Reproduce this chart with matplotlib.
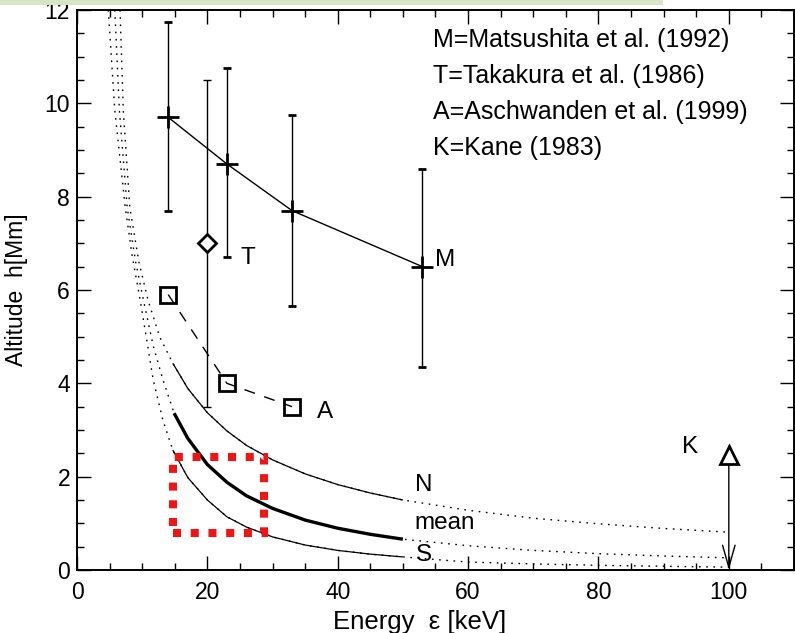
import numpy as np
import matplotlib.pyplot as plt
from matplotlib.patches import Rectangle
from matplotlib.ticker import MultipleLocator

plt.rcParams['font.family'] = ['Liberation Sans', 'DejaVu Sans']

# M = Matsushita et al. (1992), with error bar ends
m_energy = [14, 23, 33, 53]
m_alt = [9.7, 8.7, 7.7, 6.5]
m_low = [7.7, 6.7, 5.65, 4.35]
m_high = [11.75, 10.75, 9.75, 8.6]

# T = Takakura et al. (1986)
t_energy = [20]
t_alt = [7.0]
t_low = [3.5]
t_high = [10.5]

# A = Aschwanden et al. (1999)
a_energy = [14, 23, 33]
a_alt = [5.9, 4.0, 3.5]

# K = Kane (1983), upper limit
k_energy = [100]
k_alt = [2.46]

# model curves N / mean / S
n_energy = [6.6, 7.1, 8.1, 9.5, 10.9, 12.7, 14.7, 17, 20, 23, 26, 30, 35, 40, 45, 50, 60, 70, 80, 90, 100]
n_alt = [12.0, 9.85, 7.77, 6.6, 5.78, 4.99, 4.43, 3.89, 3.37, 2.98, 2.67, 2.36, 2.06, 1.83, 1.65, 1.5,
         1.28, 1.11, 0.99, 0.89, 0.81]
mean_energy = [5.8, 6.5, 7.7, 9.0, 10.2, 11.7, 13.2, 14.9, 17, 20, 23, 26, 30, 35, 40, 45, 50, 60, 70, 80, 90, 100]
mean_alt = [12.0, 9.85, 7.77, 6.6, 5.78, 4.8, 4.07, 3.36, 2.82, 2.26, 1.88, 1.59, 1.32, 1.07, 0.895, 0.765, 0.66,
            0.52, 0.42, 0.35, 0.30, 0.26]
s_energy = [4.8, 5.8, 7.4, 8.5, 9.7, 11.7, 13.2, 14.7, 17, 20, 23, 26, 30, 35, 40, 45, 50, 60, 70, 80, 90, 100]
s_alt = [12.0, 9.85, 7.77, 6.7, 5.78, 4.07, 3.2, 2.57, 1.98, 1.5, 1.14, 0.92, 0.71, 0.535, 0.42, 0.34, 0.28,
         0.17, 0.13, 0.10, 0.08, 0.06]
solid_range = (14.5, 50)

# highlighted region
box_energy = (14.7, 28.7)
box_alt = (0.8, 2.42)

legend_lines = ['M=Matsushita et al. (1992)', 'T=Takakura et al. (1986)',
                'A=Aschwanden et al. (1999)', 'K=Kane (1983)']

fig = plt.figure(figsize=(7.95, 6.33), dpi=100)
ax = fig.add_axes([77 / 795, 1 - 570 / 633, 717 / 795, 560 / 633])

# screenshot band on top
fig.patches.append(Rectangle((0, 1 - 5 / 633), 663 / 795, 5 / 633, transform=fig.transFigure,
                             facecolor='#d7e4c6', edgecolor='none'))

# model curves: dotted everywhere, solid inside the fitted range
for e, h, lw in [(n_energy, n_alt, 0.9), (mean_energy, mean_alt, 2.4), (s_energy, s_alt, 0.9)]:
    e = np.array(e)
    h = np.array(h)
    ax.plot(e, h, color='k', lw=1.0, linestyle=(0, (1.2, 4)))
    sel = (e >= solid_range[0]) & (e <= solid_range[1])
    ax.plot(e[sel], h[sel], color='k', lw=lw, solid_capstyle='butt')

# Matsushita
m_err = [np.array(m_alt) - np.array(m_low), np.array(m_high) - np.array(m_alt)]
ax.errorbar(m_energy, m_alt, yerr=m_err, fmt='-', marker='+', ms=16, mew=2.0, color='k',
            lw=1.0, elinewidth=1.0, capsize=3, capthick=1.0)

# Takakura
t_err = [np.array(t_alt) - np.array(t_low), np.array(t_high) - np.array(t_alt)]
ax.errorbar(t_energy, t_alt, yerr=t_err, fmt='none', ecolor='k', elinewidth=1.0, capsize=3, capthick=1.0)
ax.plot(t_energy, t_alt, linestyle='none', marker='D', ms=9, mfc='white', mec='k', mew=2.0, zorder=5)

# Aschwanden
ax.plot(a_energy, a_alt, color='k', lw=1.0, linestyle=(0, (8, 7)))
ax.plot(a_energy, a_alt, linestyle='none', marker='s', ms=12, mfc='none', mec='k', mew=2.0)

# Kane upper limit
for e, h in zip(k_energy, k_alt):
    ax.annotate('', xy=(e, 0), xytext=(e, h),
                arrowprops=dict(arrowstyle='->,head_length=1.6,head_width=0.45', lw=1.0, color='k',
                                shrinkA=0, shrinkB=0, mutation_scale=10))
ax.plot(k_energy, k_alt, linestyle='none', marker='^', ms=13, mfc='white', mec='k', mew=2.0, zorder=5)

# red dotted box
ax.add_patch(Rectangle((box_energy[0], box_alt[0]), box_energy[1] - box_energy[0], box_alt[1] - box_alt[0],
                       fill=False, edgecolor='#f01414', lw=5.8, linestyle=(0, (1, 1.2)),
                       capstyle='butt', zorder=6))

# labels
fs = 17.5
ax.text(26.2, 6.68, 'T', fontsize=fs, ha='center', va='center')
ax.text(56.4, 6.64, 'M', fontsize=fs, ha='center', va='center')
ax.text(38.0, 3.38, 'A', fontsize=fs, ha='center', va='center')
ax.text(94.0, 2.63, 'K', fontsize=fs, ha='center', va='center')
ax.text(53.2, 1.82, 'N', fontsize=fs, ha='center', va='center')
ax.text(56.4, 1.0, 'mean', fontsize=fs, ha='center', va='center')
ax.text(53.2, 0.32, 'S', fontsize=fs, ha='center', va='center')
for i, line in enumerate(legend_lines):
    ax.text(54.6, 11.35 - i * 0.77, line, fontsize=18, ha='left', va='center')

ax.set_xlim(0, 110)
ax.set_ylim(0, 12)
ax.xaxis.set_major_locator(MultipleLocator(20))
ax.xaxis.set_minor_locator(MultipleLocator(5))
ax.yaxis.set_major_locator(MultipleLocator(2))
ax.yaxis.set_minor_locator(MultipleLocator(0.5))
ax.tick_params(which='both', direction='in', top=True, right=True, width=1.0)
ax.tick_params(which='major', length=10, labelsize=16.5)
ax.tick_params(which='minor', length=5)
ax.tick_params(axis='x', pad=8)
ax.tick_params(axis='y', pad=5)
for sp in ax.spines.values():
    sp.set_linewidth(1.4)

ax.set_xlabel('Energy  \u03b5 [keV]', fontsize=18.5)
ax.xaxis.set_label_coords((420 - 77) / 717, -0.071)
ax.set_ylabel('Altitude  h[Mm]', fontsize=16.5)
ax.yaxis.set_label_coords(-0.068, 0.5)

fig.savefig('out.png', dpi=100)
